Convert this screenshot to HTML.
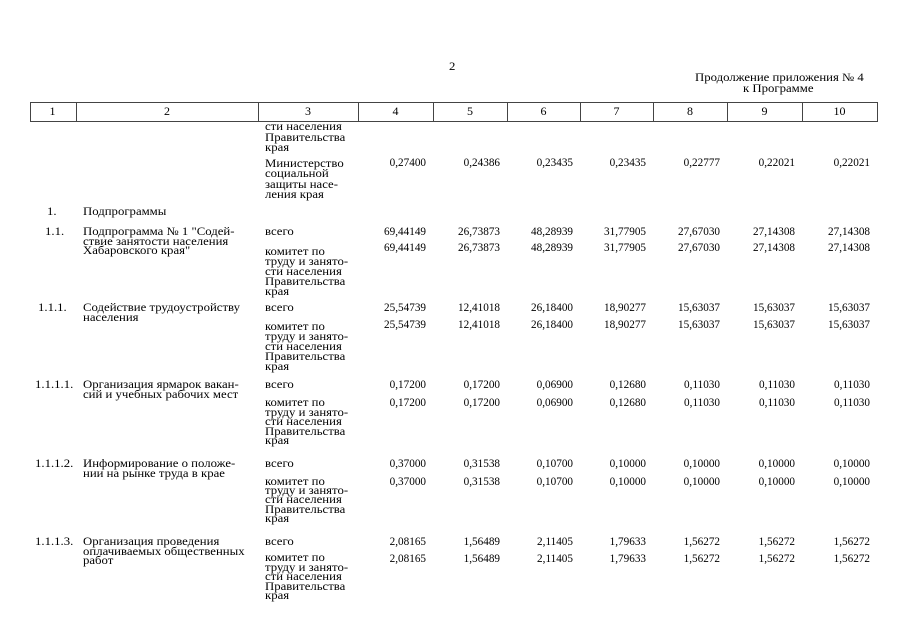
<!DOCTYPE html>
<html><head><meta charset="utf-8"><style>
html,body{margin:0;padding:0;background:#fff;}
body{width:905px;height:640px;position:relative;overflow:hidden;}
.t{position:absolute;font-family:"Liberation Serif",serif;font-size:11.5px;line-height:9.6px;white-space:nowrap;color:#000;transform:scaleX(1.11);transform-origin:0 0;}
.n{position:absolute;font-family:"Liberation Serif",serif;font-size:11.2px;line-height:9.6px;white-space:nowrap;color:#000;text-align:right;}
.hd{position:absolute;top:102px;height:18px;border:none;font-family:"Liberation Serif",serif;font-size:12px;line-height:18px;text-align:center;}
.v{position:absolute;top:102px;height:20px;width:1px;background:#444}
</style></head><body>
<div class="t" style="left:449px;top:63px;">2</div>
<div class="t" style="left:695px;top:74px;">Продолжение приложения № 4</div>
<div class="t" style="left:743px;top:85px;">к Программе</div>

<div style="position:absolute;left:30px;top:102px;width:846px;height:18px;border:1px solid #444;"></div>
<div class="hd" style="left:30px;width:45px;">1</div>
<div class="hd" style="left:76px;width:182px;">2</div>
<div class="hd" style="left:258px;width:100px;">3</div>
<div class="hd" style="left:358px;width:75px;">4</div>
<div class="hd" style="left:433px;width:74px;">5</div>
<div class="hd" style="left:507px;width:73px;">6</div>
<div class="hd" style="left:580px;width:73px;">7</div>
<div class="hd" style="left:653px;width:74px;">8</div>
<div class="hd" style="left:727px;width:75px;">9</div>
<div class="hd" style="left:802px;width:75px;">10</div>
<div class="v" style="left:76px"></div>
<div class="v" style="left:258px"></div>
<div class="v" style="left:358px"></div>
<div class="v" style="left:433px"></div>
<div class="v" style="left:507px"></div>
<div class="v" style="left:580px"></div>
<div class="v" style="left:653px"></div>
<div class="v" style="left:727px"></div>
<div class="v" style="left:802px"></div>

<div class="t" style="left:265px;top:122px;line-height:10.5px;">сти населения<br>Правительства<br>края</div>
<div class="t" style="left:265px;top:159px;line-height:10.3px;">Министерство<br>социальной<br>защиты насе-<br>ления края</div>
<div class="n" style="right:479px;top:159px;">0,27400</div>
<div class="n" style="right:405px;top:159px;">0,24386</div>
<div class="n" style="right:332px;top:159px;">0,23435</div>
<div class="n" style="right:259px;top:159px;">0,23435</div>
<div class="n" style="right:185px;top:159px;">0,22777</div>
<div class="n" style="right:110px;top:159px;">0,22021</div>
<div class="n" style="right:35px;top:159px;">0,22021</div>

<div class="t" style="left:47px;top:208px;">1.</div>
<div class="t" style="left:83px;top:208px;">Подпрограммы</div>

<div class="t" style="left:45px;top:228px;">1.1.</div>
<div class="t" style="left:83px;top:228px;line-height:9.5px;">Подпрограмма № 1 "Содей-<br>ствие занятости населения<br>Хабаровского края"</div>
<div class="t" style="left:265px;top:228px;">всего</div>
<div class="t" style="left:265px;top:247px;line-height:10px;">комитет по<br>труду и занято-<br>сти населения<br>Правительства<br>края</div>
<div class="n" style="right:479px;top:228px;">69,44149</div>
<div class="n" style="right:405px;top:228px;">26,73873</div>
<div class="n" style="right:332px;top:228px;">48,28939</div>
<div class="n" style="right:259px;top:228px;">31,77905</div>
<div class="n" style="right:185px;top:228px;">27,67030</div>
<div class="n" style="right:110px;top:228px;">27,14308</div>
<div class="n" style="right:35px;top:228px;">27,14308</div>
<div class="n" style="right:479px;top:244px;">69,44149</div>
<div class="n" style="right:405px;top:244px;">26,73873</div>
<div class="n" style="right:332px;top:244px;">48,28939</div>
<div class="n" style="right:259px;top:244px;">31,77905</div>
<div class="n" style="right:185px;top:244px;">27,67030</div>
<div class="n" style="right:110px;top:244px;">27,14308</div>
<div class="n" style="right:35px;top:244px;">27,14308</div>

<div class="t" style="left:38px;top:304px;">1.1.1.</div>
<div class="t" style="left:83px;top:304px;line-height:9.5px;">Содействие трудоустройству<br>населения</div>
<div class="t" style="left:265px;top:304px;">всего</div>
<div class="t" style="left:265px;top:322px;line-height:10px;">комитет по<br>труду и занято-<br>сти населения<br>Правительства<br>края</div>
<div class="n" style="right:479px;top:304px;">25,54739</div>
<div class="n" style="right:405px;top:304px;">12,41018</div>
<div class="n" style="right:332px;top:304px;">26,18400</div>
<div class="n" style="right:259px;top:304px;">18,90277</div>
<div class="n" style="right:185px;top:304px;">15,63037</div>
<div class="n" style="right:110px;top:304px;">15,63037</div>
<div class="n" style="right:35px;top:304px;">15,63037</div>
<div class="n" style="right:479px;top:321px;">25,54739</div>
<div class="n" style="right:405px;top:321px;">12,41018</div>
<div class="n" style="right:332px;top:321px;">26,18400</div>
<div class="n" style="right:259px;top:321px;">18,90277</div>
<div class="n" style="right:185px;top:321px;">15,63037</div>
<div class="n" style="right:110px;top:321px;">15,63037</div>
<div class="n" style="right:35px;top:321px;">15,63037</div>

<div class="t" style="left:35px;top:381px;">1.1.1.1.</div>
<div class="t" style="left:83px;top:381px;line-height:9.5px;">Организация ярмарок вакан-<br>сий и учебных рабочих мест</div>
<div class="t" style="left:265px;top:381px;">всего</div>
<div class="t" style="left:265px;top:399px;line-height:9.6px;">комитет по<br>труду и занято-<br>сти населения<br>Правительства<br>края</div>
<div class="n" style="right:479px;top:381px;">0,17200</div>
<div class="n" style="right:405px;top:381px;">0,17200</div>
<div class="n" style="right:332px;top:381px;">0,06900</div>
<div class="n" style="right:259px;top:381px;">0,12680</div>
<div class="n" style="right:185px;top:381px;">0,11030</div>
<div class="n" style="right:110px;top:381px;">0,11030</div>
<div class="n" style="right:35px;top:381px;">0,11030</div>
<div class="n" style="right:479px;top:399px;">0,17200</div>
<div class="n" style="right:405px;top:399px;">0,17200</div>
<div class="n" style="right:332px;top:399px;">0,06900</div>
<div class="n" style="right:259px;top:399px;">0,12680</div>
<div class="n" style="right:185px;top:399px;">0,11030</div>
<div class="n" style="right:110px;top:399px;">0,11030</div>
<div class="n" style="right:35px;top:399px;">0,11030</div>

<div class="t" style="left:35px;top:460px;">1.1.1.2.</div>
<div class="t" style="left:83px;top:460px;line-height:9.5px;">Информирование о положе-<br>нии на рынке труда в крае</div>
<div class="t" style="left:265px;top:460px;">всего</div>
<div class="t" style="left:265px;top:478px;line-height:9.2px;">комитет по<br>труду и занято-<br>сти населения<br>Правительства<br>края</div>
<div class="n" style="right:479px;top:460px;">0,37000</div>
<div class="n" style="right:405px;top:460px;">0,31538</div>
<div class="n" style="right:332px;top:460px;">0,10700</div>
<div class="n" style="right:259px;top:460px;">0,10000</div>
<div class="n" style="right:185px;top:460px;">0,10000</div>
<div class="n" style="right:110px;top:460px;">0,10000</div>
<div class="n" style="right:35px;top:460px;">0,10000</div>
<div class="n" style="right:479px;top:478px;">0,37000</div>
<div class="n" style="right:405px;top:478px;">0,31538</div>
<div class="n" style="right:332px;top:478px;">0,10700</div>
<div class="n" style="right:259px;top:478px;">0,10000</div>
<div class="n" style="right:185px;top:478px;">0,10000</div>
<div class="n" style="right:110px;top:478px;">0,10000</div>
<div class="n" style="right:35px;top:478px;">0,10000</div>

<div class="t" style="left:35px;top:538px;">1.1.1.3.</div>
<div class="t" style="left:83px;top:538px;line-height:9.5px;">Организация проведения<br>оплачиваемых общественных<br>работ</div>
<div class="t" style="left:265px;top:538px;">всего</div>
<div class="t" style="left:265px;top:554px;line-height:9.5px;">комитет по<br>труду и занято-<br>сти населения<br>Правительства<br>края</div>
<div class="n" style="right:479px;top:538px;">2,08165</div>
<div class="n" style="right:405px;top:538px;">1,56489</div>
<div class="n" style="right:332px;top:538px;">2,11405</div>
<div class="n" style="right:259px;top:538px;">1,79633</div>
<div class="n" style="right:185px;top:538px;">1,56272</div>
<div class="n" style="right:110px;top:538px;">1,56272</div>
<div class="n" style="right:35px;top:538px;">1,56272</div>
<div class="n" style="right:479px;top:555px;">2,08165</div>
<div class="n" style="right:405px;top:555px;">1,56489</div>
<div class="n" style="right:332px;top:555px;">2,11405</div>
<div class="n" style="right:259px;top:555px;">1,79633</div>
<div class="n" style="right:185px;top:555px;">1,56272</div>
<div class="n" style="right:110px;top:555px;">1,56272</div>
<div class="n" style="right:35px;top:555px;">1,56272</div>
</body></html>
